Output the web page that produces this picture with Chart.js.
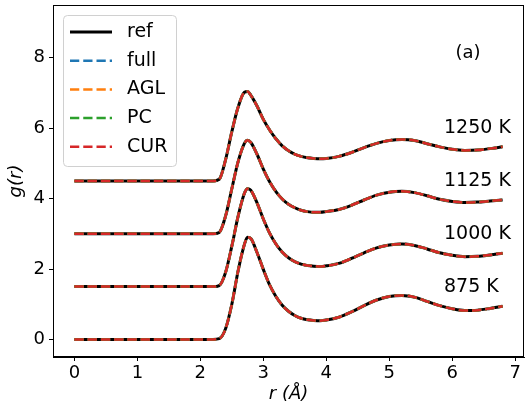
<!DOCTYPE html>
<html>
<head>
<meta charset="utf-8">
<script src="https://cdn.jsdelivr.net/npm/chart.js@4"></script>
<style>
  html, body { margin: 0; padding: 0; background: #fff; }
  #wrap { width: 525px; height: 408px; }
</style>
</head>
<body>
<div id="wrap"><canvas id="c" width="525" height="408"></canvas></div>
<script>
// r grid (Å)
const R = [0, 0.5, 1.0, 1.5, 2.0, 2.2, 2.3, 2.4, 2.5, 2.6, 2.7, 2.75, 2.8, 2.9, 3.0, 3.1, 3.2, 3.3, 3.4, 3.5,
  3.6, 3.7, 3.8, 3.9, 4.0, 4.2, 4.4, 4.6, 4.8, 5.0, 5.2, 5.4, 5.6, 5.8, 6.0, 6.2, 6.4, 6.6, 6.8];

// g(r) per temperature (before vertical offset)
const G875 = [0, 0, 0, 0, 0, 0, 0.02, 0.3, 1.0, 1.95, 2.7, 2.9, 2.87, 2.47, 1.99, 1.55, 1.22, 0.97, 0.8, 0.68,
  0.6, 0.56, 0.54, 0.53, 0.55, 0.63, 0.78, 0.96, 1.12, 1.22, 1.25, 1.2, 1.08, 0.96, 0.87, 0.82, 0.83, 0.88, 0.94];
const G1000 = [0, 0, 0, 0, 0, 0, 0.03, 0.4, 1.15, 2.0, 2.65, 2.78, 2.74, 2.38, 1.92, 1.52, 1.21, 0.98, 0.82, 0.71,
  0.64, 0.6, 0.58, 0.57, 0.59, 0.66, 0.8, 0.96, 1.1, 1.18, 1.21, 1.17, 1.07, 0.96, 0.89, 0.85, 0.86, 0.9, 0.95];
const G1125 = [0, 0, 0, 0, 0, 0, 0.04, 0.5, 1.28, 2.05, 2.57, 2.66, 2.6, 2.26, 1.84, 1.48, 1.2, 0.99, 0.84, 0.74,
  0.67, 0.63, 0.61, 0.61, 0.63, 0.69, 0.81, 0.96, 1.1, 1.18, 1.21, 1.17, 1.08, 0.98, 0.92, 0.89, 0.9, 0.93, 0.96];
const G1250 = [0, 0, 0, 0, 0, 0, 0.05, 0.6, 1.4, 2.1, 2.52, 2.54, 2.44, 2.13, 1.75, 1.45, 1.2, 1.0, 0.86, 0.76,
  0.7, 0.66, 0.64, 0.63, 0.64, 0.7, 0.81, 0.95, 1.07, 1.15, 1.18, 1.15, 1.06, 0.97, 0.9, 0.87, 0.88, 0.92, 0.97];

const TEMPS = ['875 K', '1000 K', '1125 K', '1250 K'];
const CURVES = [G875, G1000, G1125, G1250];
const OFFSETS = [0, 1.5, 3.0, 4.5];

// ref + fitted models (all sit on top of the reference)
const SERIES = ['ref', 'full', 'AGL', 'PC', 'CUR'];
const COLORS = ['#000000', '#1f77b4', '#ff7f0e', '#2ca02c', '#d62728'];

const X_TICKS = [0, 1, 2, 3, 4, 5, 6, 7];
const Y_TICKS = [0, 2, 4, 6, 8];

const FONT = 'DejaVu Sans';
const DASH = [9.25, 4];

const datasets = [];
CURVES.forEach((g, ti) => {
  const pts = R.map((r, i) => ({ x: r, y: g[i] + OFFSETS[ti] }));
  SERIES.forEach((name, si) => {
    datasets.push({
      label: name,
      data: pts,
      borderColor: COLORS[si],
      borderWidth: si === 0 ? 3 : 2.5,
      borderDash: si === 0 ? [] : DASH,
      pointRadius: 0,
      cubicInterpolationMode: 'monotone',
      fill: false,
      order: 50 - si * 10,
      _first: ti === 0,
    });
  });
});

// temperature labels + panel tag, placed in data coords
const tagPlugin = {
  id: 'tags',
  afterDatasetsDraw(chart) {
    const { ctx, scales: { x, y } } = chart;
    ctx.save();
    ctx.fillStyle = '#000';
    ctx.font = `19px "${FONT}"`;
    ctx.textAlign = 'left';
    ctx.textBaseline = 'middle';
    TEMPS.forEach((t, i) => {
      ctx.fillText(t, x.getPixelForValue(5.87), y.getPixelForValue(OFFSETS[i] + 1.5));
    });
    ctx.font = `18px "${FONT}"`;
    ctx.textAlign = 'center';
    ctx.fillText('(a)', x.getPixelForValue(6.25), y.getPixelForValue(8.14));
    ctx.restore();
  },
};

// axes frame (top/right spines too)
const framePlugin = {
  id: 'frame',
  afterDraw(chart) {
    const { ctx, chartArea: a } = chart;
    ctx.save();
    ctx.strokeStyle = '#000';
    ctx.lineWidth = 1;
    ctx.strokeRect(a.left + 0.5, a.top + 0.5, a.right - a.left - 1, a.bottom - a.top - 1);
    ctx.restore();
  },
};

// matplotlib-style legend box
const legendPlugin = {
  id: 'mplLegend',
  afterDraw(chart) {
    const { ctx } = chart;
    const bx = 63, by = 15, bw = 113, bh = 151, rad = 4;
    ctx.save();
    ctx.beginPath();
    ctx.roundRect(bx + 0.5, by + 0.5, bw, bh, rad);
    ctx.fillStyle = 'rgba(255,255,255,0.8)';
    ctx.fill();
    ctx.strokeStyle = '#d0d0d0';
    ctx.lineWidth = 1;
    ctx.stroke();
    const rows = chart.data.datasets.filter((d) => d._first);
    ctx.font = `19px "${FONT}"`;
    ctx.textBaseline = 'middle';
    ctx.textAlign = 'left';
    rows.forEach((d, i) => {
      const cy = 32 + i * 28.7;
      ctx.beginPath();
      ctx.setLineDash(d.borderDash);
      ctx.lineWidth = d.borderWidth;
      ctx.strokeStyle = d.borderColor;
      ctx.moveTo(70, cy);
      ctx.lineTo(112, cy);
      ctx.stroke();
      ctx.setLineDash([]);
      ctx.fillStyle = '#000';
      ctx.fillText(d.label, 127, cy);
    });
    ctx.restore();
  },
};

const noPad = (s) => { s.paddingTop = 0; s.paddingBottom = 0; s.paddingLeft = 0; s.paddingRight = 0; };

new Chart(document.getElementById('c'), {
  type: 'line',
  data: { datasets },
  options: {
    responsive: false,
    animation: false,
    events: [],
    layout: { padding: { top: 5, right: 1, left: 0, bottom: 0 } },
    plugins: { legend: { display: false }, tooltip: { enabled: false } },
    scales: {
      x: {
        type: 'linear',
        min: -0.34,
        max: 7.14,
        afterBuildTicks: (s) => { s.ticks = X_TICKS.map((v) => ({ value: v })); },
        afterFit: (s) => { s.height = 51; noPad(s); },
        ticks: { color: '#000', font: { family: FONT, size: 18 }, padding: 2, maxRotation: 0 },
        grid: { drawOnChartArea: false, tickLength: 4, color: '#000' },
        border: { display: true, color: '#000', width: 1 },
        title: { display: true, text: 'r (Å)', color: '#000', font: { family: FONT, size: 18, style: 'italic' }, padding: { top: 0, bottom: 3 } },
      },
      y: {
        type: 'linear',
        min: -0.5,
        max: 9.5,
        afterBuildTicks: (s) => { s.ticks = Y_TICKS.map((v) => ({ value: v })); },
        afterFit: (s) => { s.width = 53; noPad(s); },
        ticks: { color: '#000', font: { family: FONT, size: 18 }, padding: 4 },
        grid: { drawOnChartArea: false, tickLength: 4, color: '#000' },
        border: { display: true, color: '#000', width: 1 },
        title: { display: true, text: 'g(r)', color: '#000', font: { family: FONT, size: 18, style: 'italic' }, padding: { top: 6, bottom: 0 } },
      },
    },
  },
  plugins: [tagPlugin, framePlugin, legendPlugin],
});
</script>
</body>
</html>
